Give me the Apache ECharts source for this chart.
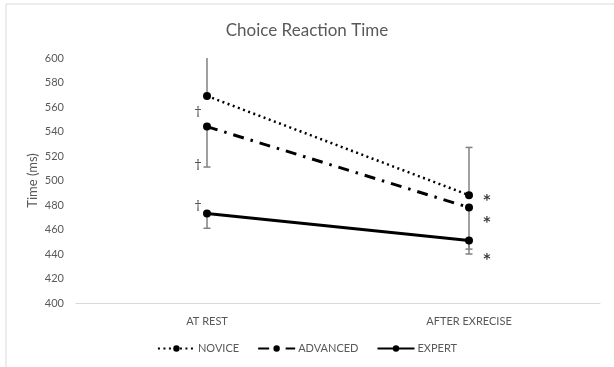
<!DOCTYPE html>
<html>
<head>
<meta charset="utf-8">
<script src="https://cdn.jsdelivr.net/npm/echarts@6/dist/echarts.min.js"></script>
<style>
  html, body { margin: 0; padding: 0; background: #fff; }
  #chart { width: 614px; height: 367px; }
</style>
</head>
<body>
<div id="chart"></div>
<script>
// Choice reaction time by skill group, before and after exercise
const categories = ['AT REST', 'AFTER EXRECISE'];
const yTicks = [400, 420, 440, 460, 480, 500, 520, 540, 560, 580, 600];

const novice = [569, 488];
const advanced = [544, 478];
const expert = [473, 451];

// one-sided error bars: novice upward, advanced and expert downward
const noviceErrUp = [33, 39];
const advancedErrDown = [33, 34];
const expertErrDown = [12, 11];

// significance markers: daggers at rest, asterisks after exercise
const daggerValues = [557, 514, 480];
const asteriskValues = [486, 468, 438];

const FONT = 'Lato';
const GREY_TEXT = '#595959';

// error bar segments: [category index, mean, end of bar]
const errorSegments = [];
novice.forEach((v, i) => errorSegments.push([i, v, v + noviceErrUp[i]]));
advanced.forEach((v, i) => errorSegments.push([i, v, v - advancedErrDown[i]]));
expert.forEach((v, i) => errorSegments.push([i, v, v - expertErrDown[i]]));

const chart = echarts.init(document.getElementById('chart'), null, { renderer: 'canvas' });

function lineSeries(name, data, type, width) {
  return {
    name: name,
    type: 'line',
    data: data,
    z: 3,
    symbol: 'circle',
    symbolSize: 8,
    itemStyle: { color: '#000' },
    lineStyle: { color: '#000', width: width, type: type, cap: 'butt' },
    emphasis: { disabled: true },
    animation: false
  };
}

chart.setOption({
  animation: false,
  backgroundColor: '#fff',
  graphic: [{
    type: 'rect',
    shape: { x: 6, y: 4, width: 640, height: 400 },
    style: { fill: 'none', stroke: '#d9d9d9', lineWidth: 1 },
    silent: true,
    z: -1
  }],
  title: {
    text: 'Choice Reaction Time',
    left: 'center',
    top: 17,
    textStyle: { fontFamily: FONT, fontSize: 17, fontWeight: 'normal', color: GREY_TEXT }
  },
  grid: { left: 76, right: 14, top: 58, bottom: 64 },
  legend: {
    data: ['NOVICE', 'ADVANCED', 'EXPERT'],
    bottom: 8,
    left: 'center',
    itemWidth: 37,
    itemHeight: 8,
    itemGap: 18,
    textStyle: { fontFamily: FONT, fontSize: 11, color: GREY_TEXT, padding: [0, 0, 0, -2] }
  },
  xAxis: {
    type: 'category',
    data: categories,
    boundaryGap: true,
    axisLine: { lineStyle: { color: '#d9d9d9', width: 1 } },
    axisTick: { show: false },
    axisLabel: { fontFamily: FONT, fontSize: 11, color: GREY_TEXT, margin: 13 }
  },
  yAxis: {
    type: 'value',
    min: yTicks[0],
    max: yTicks[yTicks.length - 1],
    interval: yTicks[1] - yTicks[0],
    name: 'Time (ms)',
    nameLocation: 'middle',
    nameGap: 37,
    nameMoveOverlap: false,
    nameTextStyle: { fontFamily: FONT, fontSize: 13, color: GREY_TEXT },
    axisLine: { show: false },
    axisTick: { show: false },
    splitLine: { show: false },
    axisLabel: { fontFamily: FONT, fontSize: 11, color: GREY_TEXT, margin: 12 }
  },
  series: [
    {
      type: 'custom',
      name: 'error',
      z: 1,
      clip: true,
      silent: true,
      data: errorSegments,
      renderItem: function (params, api) {
        const x = api.value(0);
        const mean = api.coord([x, api.value(1)]);
        const end = api.coord([x, api.value(2)]);
        const half = 3.5;
        const style = { stroke: '#808080', lineWidth: 1.5 };
        return {
          type: 'group',
          children: [
            { type: 'line', shape: { x1: mean[0], y1: mean[1], x2: end[0], y2: end[1] }, style: style },
            { type: 'line', shape: { x1: end[0] - half, y1: end[1], x2: end[0] + half, y2: end[1] }, style: style }
          ]
        };
      }
    },
    lineSeries('NOVICE', novice, [2, 3.5], 2.5),
    lineSeries('ADVANCED', advanced, [11, 7, 2.5, 7], 3),
    lineSeries('EXPERT', expert, 'solid', 3),
    {
      type: 'scatter',
      name: 'dagger',
      silent: true,
      symbolSize: 0,
      data: daggerValues.map(v => [0, v]),
      label: {
        show: true,
        formatter: '†',
        offset: [-9, 2],
        fontFamily: 'DejaVu Serif',
        fontSize: 13,
        color: '#000'
      }
    },
    {
      type: 'scatter',
      name: 'asterisk',
      silent: true,
      symbolSize: 0,
      data: asteriskValues.map(v => [1, v]),
      label: {
        show: true,
        formatter: '*',
        offset: [18, 3],
        fontFamily: 'DejaVu Sans',
        fontWeight: 'bold',
        fontSize: 14,
        color: '#000'
      }
    }
  ]
});
</script>
</body>
</html>
